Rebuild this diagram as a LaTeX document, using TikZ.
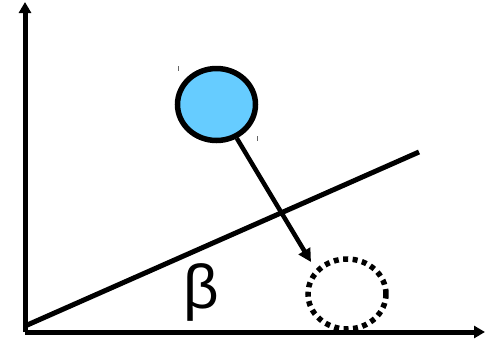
\documentclass[tikz,border=0pt]{standalone}
\usepackage{fontspec}
\setmainfont{Liberation Sans}
\usetikzlibrary{arrows.meta,shapes.geometric}
\definecolor{ballblue}{RGB}{102,204,255}
\tikzset{
  axisline/.style={line width=5pt,-{Triangle[width=12pt,length=11pt]}},
  ramp/.style={line width=5pt},
  ballshape/.style={ellipse,draw=black,line width=5.5pt,fill=ballblue,inner sep=0pt,minimum width=78pt,minimum height=72pt},
  ghostshape/.style={ellipse,draw=black,line width=5.5pt,dash pattern=on 5pt off 4.5pt,inner sep=0pt,minimum width=78pt,minimum height=70pt},
  motion/.style={line width=4.5pt,-{Triangle[width=13pt,length=13pt]}},
  tickmark/.style={line width=1pt,draw=black!60}
}
\begin{document}
\begin{tikzpicture}[x=1pt,y=-1pt]
\useasboundingbox (0,0) rectangle (485,338);
\coordinate (origin) at (25,332);
\coordinate (ytop) at (25,2);
\coordinate (xend) at (485,332);
\coordinate (rampstart) at (25,326);
\coordinate (rampend) at (419,152);
\draw[axisline] (origin) -- (ytop);
\draw[axisline] (origin) -- (xend);
\draw[ramp] (rampstart) -- (rampend);
\node[ballshape] (ball) at (216.5,104.5) {};
\node[ghostshape] (ghost) at (347,294) {};
\coordinate (tip) at (311,262);
\draw[motion] (ball.-59) -- (tip);
\node[font=\fontsize{62}{62}\selectfont,inner sep=0pt] (beta) at (201,292) {β};
\coordinate (t1a) at (178.5,66);
\coordinate (t1b) at (178.5,71);
\coordinate (t2a) at (257,136);
\coordinate (t2b) at (257,141);
\draw[tickmark] (t1a) -- (t1b);
\draw[tickmark] (t2a) -- (t2b);
\end{tikzpicture}
\end{document}
